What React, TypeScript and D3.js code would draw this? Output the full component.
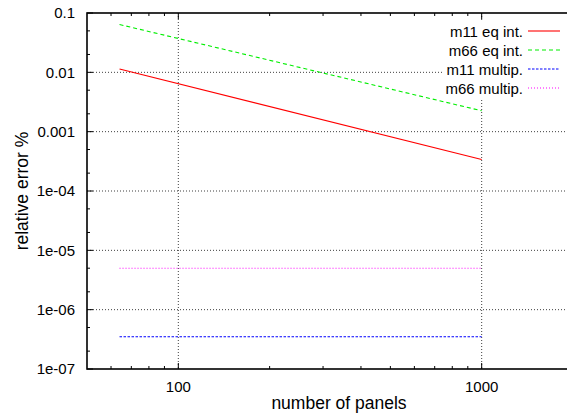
import React from 'react'
import * as d3 from 'd3'

// panel counts and relative errors
const panels = [64, 1000]
const m11EqInt = [0.0114, 0.00034]
const m66EqInt = [0.064, 0.00225]
const m11Multip = [3.5e-7, 3.5e-7]
const m66Multip = [5.0e-6, 5.0e-6]

const seriesNames = ['m11 eq int.', 'm66 eq int.', 'm11 multip.', 'm66 multip.']
const seriesColors = ['#ff0000', '#00ee00', '#0000ff', '#ff00ff']
const seriesDash = [null, '4,3', '2.5,1.5', '1,2']

const yTickValues = [0.1, 0.01, 0.001, 1e-4, 1e-5, 1e-6, 1e-7]
const yTickLabels = ['0.1', '0.01', '0.001', '1e-04', '1e-05', '1e-06', '1e-07']
const xTickValues = [100, 1000]
const xTickLabels = ['100', '1000']

const W = 567
const H = 417
const left = 87
const right = 573
const top = 13
const bottom = 369
const font = '"Liberation Sans", Arial, Helvetica, sans-serif'

export default function App() {
  const x = d3.scaleLog().domain([50, 2000]).range([left, right])
  const y = d3.scaleLog().domain([1e-7, 0.1]).range([bottom, top])

  const data = [m11EqInt, m66EqInt, m11Multip, m66Multip]
  const line = d3
    .line<[number, number]>()
    .x(d => x(d[0]))
    .y(d => y(d[1]))

  // minor ticks
  const xMinor: number[] = []
  for (let dec = 10; dec <= 1000; dec *= 10) {
    for (let k = 2; k <= 9; k++) {
      const v = dec * k
      if (v > 50 && v < 2000) xMinor.push(v)
    }
  }
  const yMinor: number[] = []
  for (let dec = 1e-7; dec < 0.1; dec *= 10) {
    yMinor.push(dec * 2, dec * 5)
  }

  return (
    <svg width={W} height={H} style={{position: 'absolute', left: 0, top: 0, background: '#fff'}}>
      <rect x={0} y={0} width={W} height={H} fill="#fff" />
      {/* grid */}
      {yTickValues.slice(1, -1).map((v, i) => (
        <line key={'gy' + i} x1={left} x2={right} y1={y(v)} y2={y(v)}
          stroke="#000" strokeWidth={1} strokeDasharray="1,2" opacity={0.75} />
      ))}
      {xTickValues.map((v, i) => (
        <line key={'gx' + i} x1={x(v)} x2={x(v)} y1={top} y2={bottom}
          stroke="#000" strokeWidth={1} strokeDasharray="1,2" opacity={0.75} />
      ))}
      {/* ticks */}
      {yTickValues.map((v, i) => (
        <line key={'ty' + i} x1={left} x2={left + 6} y1={y(v)} y2={y(v)} stroke="#000" />
      ))}
      {yMinor.map((v, i) => (
        <line key={'tym' + i} x1={left} x2={left + 3} y1={y(v)} y2={y(v)} stroke="#000" />
      ))}
      {xTickValues.map((v, i) => (
        <g key={'tx' + i}>
          <line x1={x(v)} x2={x(v)} y1={bottom} y2={bottom - 6} stroke="#000" />
          <line x1={x(v)} x2={x(v)} y1={top} y2={top + 6} stroke="#000" />
        </g>
      ))}
      {xMinor.map((v, i) => (
        <g key={'txm' + i}>
          <line x1={x(v)} x2={x(v)} y1={bottom} y2={bottom - 3} stroke="#000" />
          <line x1={x(v)} x2={x(v)} y1={top} y2={top + 3} stroke="#000" />
        </g>
      ))}
      {/* series */}
      {data.map((vals, i) => (
        <path key={'s' + i}
          d={line(panels.map((p, j) => [p, vals[j]] as [number, number])) || ''}
          fill="none" stroke={seriesColors[i]} strokeWidth={1.1}
          strokeDasharray={seriesDash[i] || undefined} />
      ))}
      {/* legend */}
      <rect x={443} y={21} width={124} height={77} fill="#fff" />
      {seriesNames.map((n, i) => {
        const ly = 31 + i * 19
        return (
          <g key={'l' + i}>
            <text x={523} y={ly + 1} dy="0.35em" textAnchor="end" fontFamily={font} fontSize={15}>{n}</text>
            <line x1={528} x2={560} y1={ly} y2={ly} stroke={seriesColors[i]} strokeWidth={1.1}
              strokeDasharray={seriesDash[i] || undefined} />
          </g>
        )
      })}
      {/* frame */}
      <rect x={left} y={top} width={right - left} height={bottom - top}
        fill="none" stroke="#000" strokeWidth={1.6} />
      {/* tick labels */}
      {yTickValues.map((v, i) => (
        <text key={'ly' + i} x={75} y={y(v)} dy="0.35em" textAnchor="end"
          fontFamily={font} fontSize={15}>{yTickLabels[i]}</text>
      ))}
      {xTickValues.map((v, i) => (
        <text key={'lx' + i} x={x(v)} y={387} dy="0.35em" textAnchor="middle"
          fontFamily={font} fontSize={15}>{xTickLabels[i]}</text>
      ))}
      <text x={339} y={409} textAnchor="middle" fontFamily={font} fontSize={17.5}>number of panels</text>
      <text transform={`translate(28,${(top + bottom) / 2}) rotate(-90)`} textAnchor="middle"
        fontFamily={font} fontSize={17.5}>relative error %</text>
    </svg>
  )
}
